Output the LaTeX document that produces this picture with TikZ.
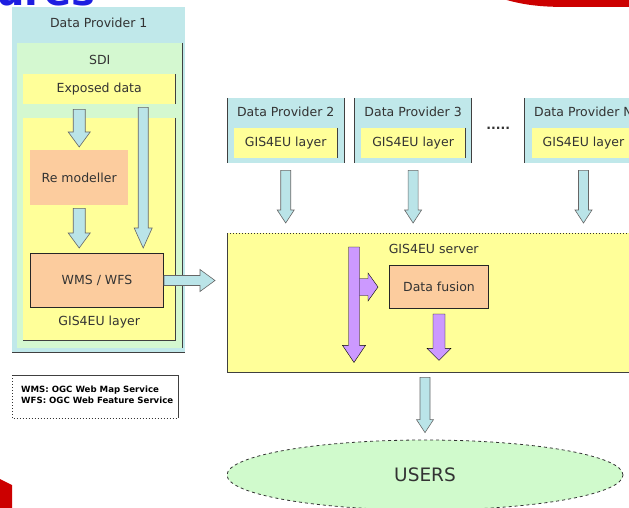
\documentclass[tikz,border=0pt]{standalone}
\usepackage{fontspec}
\setmainfont{DejaVu Sans}
\usetikzlibrary{calc, positioning, shapes.geometric}

\definecolor{provcyan}{RGB}{192,232,234}
\definecolor{sdigreen}{RGB}{212,248,208}
\definecolor{layeryellow}{RGB}{255,255,153}
\definecolor{modorange}{RGB}{252,204,158}
\definecolor{flowblue}{RGB}{186,228,232}
\definecolor{flowpurple}{RGB}{204,153,255}
\definecolor{usergreen}{RGB}{208,250,204}
\definecolor{titleblue}{RGB}{30,30,225}
\definecolor{slidered}{RGB}{204,0,0}

% block arrow: [style]{from}{to}{shaft half width}{head half width}{head length}
\newcommand{\blockarrow}[6][]{%
  \coordinate (ba) at ($(#3)!#6!(#2)$);
  \draw[#1] ($(#2)!#4!90:(#3)$) -- ($(ba)!#4!90:(#3)$) -- ($(ba)!#5!90:(#3)$) -- (#3)
    -- ($(ba)!#5!-90:(#3)$) -- ($(ba)!#4!-90:(#3)$) -- ($(#2)!#4!-90:(#3)$) -- cycle;
}

\begin{document}
\begin{tikzpicture}[
  x=1pt, y=-1pt,
  font=\fontsize{12.5}{14}\selectfont, text=black!80,
  provider/.style={fill=provcyan, inner sep=0, anchor=north west},
  sdibox/.style={fill=sdigreen, inner sep=0, anchor=north west},
  layer/.style={fill=layeryellow, inner sep=0, anchor=north west},
  module/.style={fill=modorange, inner sep=0, anchor=north west},
  edge/.style={draw=black!75, line width=1pt},
  dotedge/.style={draw=black!80, dotted, line width=1pt},
  flow/.style={fill=flowblue, draw=black!60, line width=0.6pt},
  fuse/.style={fill=flowpurple},
  legendtext/.style={font=\fontsize{8.6}{11.5}\selectfont\bfseries, align=left, inner sep=0, text=black}]

  \useasboundingbox (0,0) rectangle (629,508);
  \clip (0,0) rectangle (629,508);

  % slide decorations
  \fill[slidered] (500,-2) .. controls (525,6) and (545,7) .. (570,7) -- (632,7) -- (632,-2) -- cycle;
  \fill[slidered] (-2,478) -- (12,485) -- (12,510) -- (-2,510) -- cycle;
  \node[anchor=base west, text=titleblue, font=\fontsize{40}{42}\selectfont\bfseries, inner sep=0] (title) at (-4,6) {ures};

  % Data Provider 1
  \node[provider, minimum width=173pt, minimum height=345pt] (dp1) at (12,7) {};
  \node[below=16pt of dp1.north, anchor=center] (dp1t) {Data Provider 1};
  \node[sdibox, minimum width=165pt, minimum height=305pt] (sdi) at (17,43) {};
  \node[below=17pt of sdi.north, anchor=center] (sdit) {SDI};
  \node[layer, minimum width=152pt, minimum height=30pt] (exposed) at (23,74) {Exposed data};
  \node[layer, minimum width=152pt, minimum height=222pt] (gislayer) at (23,118) {};
  \node[above=18pt of gislayer.south, anchor=center] (gislayert) {GIS4EU layer};
  \node[module, minimum width=98pt, minimum height=55pt] (remod) at (30,150) {Re modeller};
  \node[module, draw=black!85, line width=1pt, minimum width=133pt, minimum height=54pt] (wms) at (30,253) {WMS / WFS};

  \draw[edge] (dp1.south west) -- (dp1.south east);
  \draw[edge] (sdi.north east) -- (sdi.south east);
  \draw[edge] (exposed.north east) -- (exposed.south east);
  \draw[edge] (gislayer.north east) -- (gislayer.south east) -- (gislayer.south west);

  % other data providers
  \node[provider, minimum width=117pt, minimum height=65pt] (dp2) at (227,98) {};
  \node[provider, minimum width=117pt, minimum height=65pt, right=10pt of dp2] (dp3) {};
  \node[provider, minimum width=117pt, minimum height=65pt, right=53pt of dp3] (dpN) {};
  \node (dots) at ($(dp3.east)!0.5!(dpN.west)+(0,-2)$) {\textbf{.....}};
  \node[below=14pt of dp2.north, anchor=center] (dp2t) {Data Provider 2};
  \node[below=14pt of dp3.north, anchor=center] (dp3t) {Data Provider 3};
  \node[below=14pt of dpN.north, anchor=center] (dpNt) {Data Provider N};
  \node[layer, minimum width=104pt, minimum height=30pt, above=5pt of dp2.south] (lay2) {GIS4EU layer};
  \node[layer, minimum width=104pt, minimum height=30pt, above=5pt of dp3.south] (lay3) {GIS4EU layer};
  \node[layer, minimum width=104pt, minimum height=30pt, above=5pt of dpN.south] (layN) {GIS4EU layer};

  \draw[edge] (dp2.north west) -- (dp2.south west);
  \draw[edge] (dp2.north east) -- (dp2.south east);
  \draw[edge] (dp3.north west) -- (dp3.south west);
  \draw[edge] (dp3.north east) -- (dp3.south east);
  \draw[edge] (dpN.north west) -- (dpN.south west);
  \draw[edge] (lay2.north east) -- (lay2.south east);
  \draw[edge] (lay3.north east) -- (lay3.south east);

  % GIS4EU server
  \node[layer, minimum width=413pt, minimum height=139pt] (server) at (227,233) {};
  \draw[edge] (server.north west) -- (server.south west) -- (server.south east);
  \draw[dotedge] (server.north west) -- (server.north east);
  \node[below=16pt of server.north, anchor=center] (servert) {GIS4EU server};
  \node[module, draw=black!85, line width=1pt, minimum width=99pt, minimum height=43pt] (fusion) at (389,265) {Data fusion};

  % legend
  \node[anchor=north west, minimum width=166pt, minimum height=43pt, inner sep=0] (legend) at (12,375) {};
  \draw[edge] (legend.north west) -- (legend.north east) -- (legend.south east);
  \draw[dotedge] (legend.north west) -- (legend.south west) -- (legend.south east);
  \node[legendtext, anchor=west] (legendt) at ($(legend.west)+(9,-2)$) {WMS: OGC Web Map Service\\WFS: OGC Web Feature Service};

  % users
  \node[ellipse, fill=usergreen, draw=black!80, dashed, line width=0.8pt, minimum width=396pt, minimum height=70pt, inner sep=0, font=\fontsize{18.5}{20}\selectfont] (users) at (425,475) {USERS};

  % arrow end points
  \coordinate (a1s) at ($(exposed.south -| remod.north)+(0,5)$);
  \coordinate (a1e) at ($(remod.north)+(0,-3)$);
  \coordinate (a2s) at ($(remod.south)+(0,3)$);
  \coordinate (a2e) at ($(wms.north -| remod.south)+(0,-5)$);
  \coordinate (a3s) at ($(exposed.south)+(44,3)$);
  \coordinate (a3e) at ($(a3s |- wms.north)+(0,-5)$);
  \coordinate (a4e) at ($(wms.east -| server.west)+(-12,0)$);
  \coordinate (p1s) at ($(server.north west)+(127,14)$);
  \coordinate (p1e) at ($(p1s |- server.south)+(0,-10)$);
  \coordinate (p2s) at (p1s |- fusion.west);
  \coordinate (p2e) at ($(fusion.west)+(-11,0)$);
  \coordinate (p3s) at ($(fusion.south)+(0,5)$);
  \coordinate (p3e) at ($(fusion.south |- server.south)+(0,-12)$);
  \coordinate (u1s) at ($(server.south -| users.north)+(0,5)$);
  \coordinate (u1e) at ($(users.north)+(0,-7)$);

  % flows inside Data Provider 1
  \blockarrow[flow]{a1s}{a1e}{6pt}{11pt}{15pt}
  \blockarrow[flow]{a2s}{a2e}{6pt}{11pt}{15pt}
  \blockarrow[flow]{a3s}{a3e}{5pt}{9pt}{20pt}
  \blockarrow[flow]{wms.east}{a4e}{5pt}{11pt}{15pt}

  % flows from the providers to the server
  \foreach \p in {dp2, dp3, dpN} {
    \coordinate (\p s) at ($(\p.south)+(0,7)$);
    \coordinate (\p e) at ($(\p.south |- server.north)+(0,-10)$);
    \blockarrow[flow]{\p s}{\p e}{5pt}{8.5pt}{13pt}
  }

  % flows inside the server
  \blockarrow[fuse]{p2s}{p2e}{8.5pt}{14pt}{10pt}
  \blockarrow[fuse]{p1s}{p1e}{5.5pt}{11.5pt}{17pt}
  \blockarrow[fuse]{p3s}{p3e}{6pt}{12pt}{12pt}

  % server to users
  \blockarrow[flow]{u1s}{u1e}{5pt}{8.5pt}{13pt}

\end{tikzpicture}
\end{document}
